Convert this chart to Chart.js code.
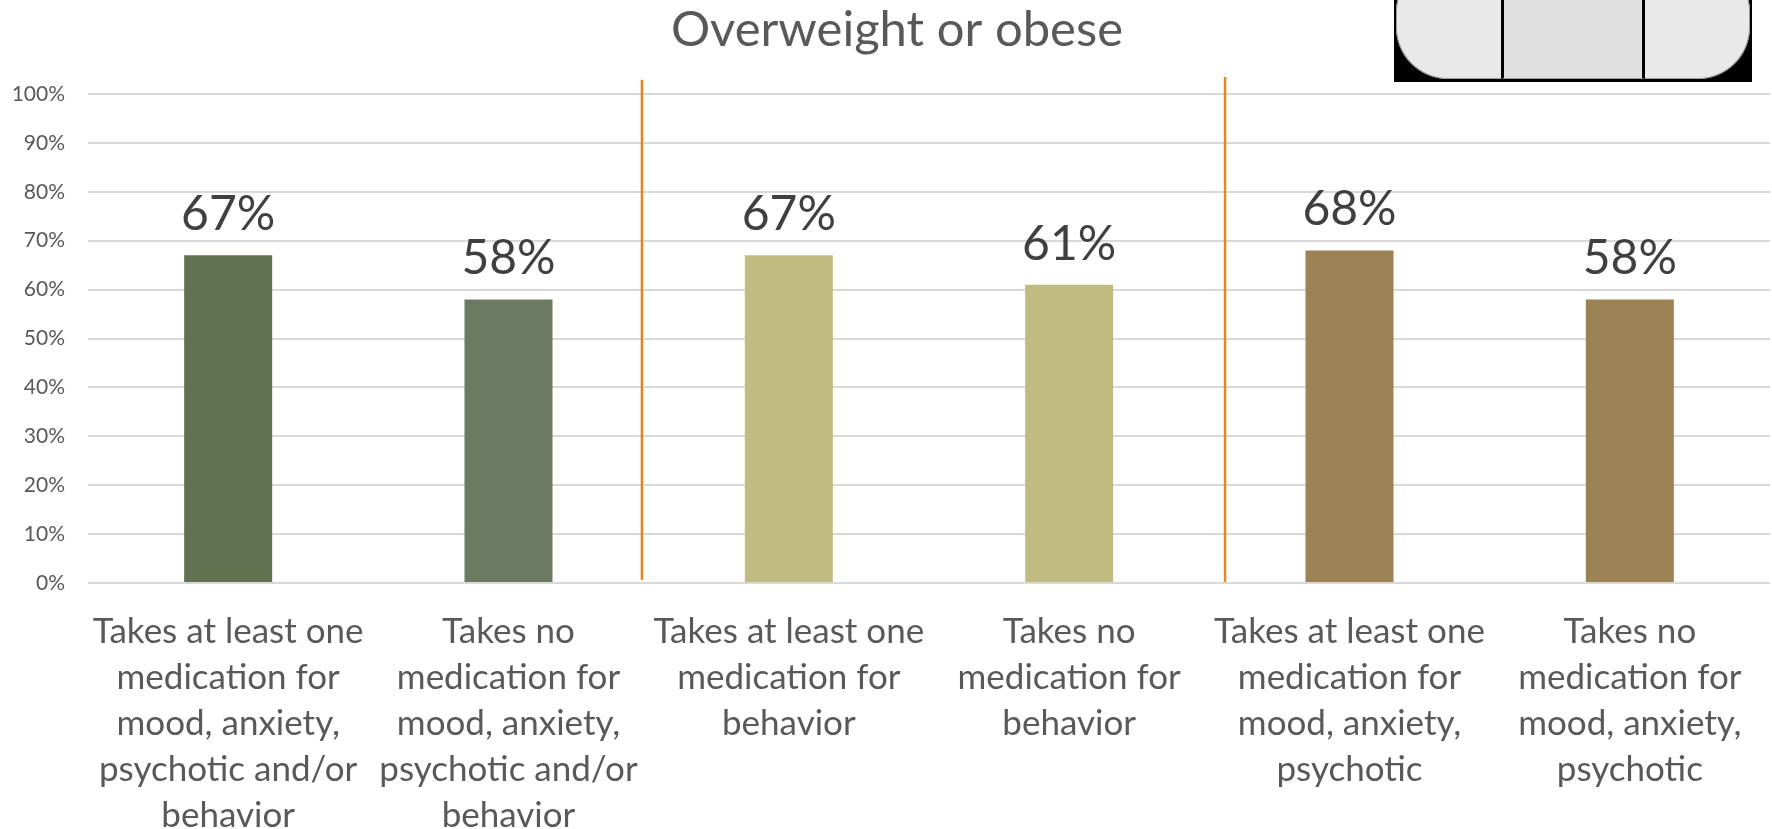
<!DOCTYPE html>
<html>
<head>
<meta charset="utf-8">
<title>Overweight or obese</title>
<script src="https://cdn.jsdelivr.net/npm/chart.js@4"></script>
<style>
    html, body { margin: 0; padding: 0; background: #ffffff; overflow: hidden; }
    #wrap { position: relative; width: 1772px; height: 829px; }
    /* tab strip stuck on the top right corner */
    #tabs { position: absolute; left: 1394px; top: 0; width: 358px; height: 82px; background: #000; }
    #tabs .strip { position: absolute; left: 2px; top: -40px; width: 354px; height: 119px; border-radius: 52px; overflow: hidden; background: #e9e9e9; box-shadow: inset 0 0 0 1px #999; }
    #tabs .mid { position: absolute; left: 105px; top: 0; width: 144px; height: 119px; box-sizing: border-box; background: #e0e0e0; border-left: 3px solid #000; border-right: 3px solid #000; border-bottom: 1px solid #999; }
</style>
</head>
<body>
<div id="wrap">
    <canvas id="obeseChart" width="1772" height="829"></canvas>
    <div id="tabs"><div class="strip"><div class="mid"></div></div></div>
</div>
<script>
const chartTitle = "Overweight or obese";
const categories = [
    ["Takes at least one", "medication for", "mood, anxiety,", "psychotic and/or", "behavior"],
    ["Takes no", "medication for", "mood, anxiety,", "psychotic and/or", "behavior"],
    ["Takes at least one", "medication for", "behavior"],
    ["Takes no", "medication for", "behavior"],
    ["Takes at least one", "medication for", "mood, anxiety,", "psychotic"],
    ["Takes no", "medication for", "mood, anxiety,", "psychotic"],
];
const percentages = [67, 58, 67, 61, 68, 58];
const barColors = ["#627150", "#6d7a62", "#c0bb80", "#c0bb80", "#9c8356", "#9c8356"];

// orange separators between the three groups: category position, then y range in %
const dividerAt = [1.476, 3.556];
const dividerFrom = [0.6, 0.2];
const dividerTo = [102.9, 103.5];

const FONT = "Lato, 'Open Sans', sans-serif";

// separators, title and the value labels above the bars
const chartExtras = {
    id: "chartExtras",
    afterDatasetsDraw(chart) {
        const ctx = chart.ctx;
        const { x, y } = chart.scales;
        ctx.save();

        ctx.strokeStyle = "#e5871b";
        ctx.lineWidth = 2.5;
        dividerAt.forEach((pos, i) => {
            const px = x.getPixelForValue(pos);
            ctx.beginPath();
            ctx.moveTo(px, y.getPixelForValue(dividerFrom[i]));
            ctx.lineTo(px, y.getPixelForValue(dividerTo[i]));
            ctx.stroke();
        });

        ctx.textAlign = "center";
        ctx.font = "49px " + FONT;
        ctx.fillStyle = "#595959";
        ctx.textBaseline = "middle";
        ctx.fillText(chartTitle, chart.width / 2 + 11, 30);

        ctx.font = "48px " + FONT;
        ctx.fillStyle = "#404040";
        ctx.textBaseline = "alphabetic";
        chart.getDatasetMeta(0).data.forEach((bar, i) => {
            ctx.fillText(percentages[i] + "%", bar.x, bar.y - 25);
        });
        ctx.restore();
    },
};

new Chart(document.getElementById("obeseChart"), {
    type: "bar",
    data: {
        labels: categories,
        datasets: [
            {
                data: percentages,
                backgroundColor: barColors,
                barPercentage: 0.314,
                categoryPercentage: 1,
            },
        ],
    },
    options: {
        responsive: false,
        animation: false,
        layout: { padding: { top: 94, right: 2 } },
        plugins: {
            legend: { display: false },
            tooltip: { enabled: false },
        },
        scales: {
            x: {
                grid: { display: false, drawTicks: false },
                border: { display: false },
                ticks: {
                    color: "#595959",
                    font: { family: FONT, size: 35, lineHeight: 1.31 },
                    padding: 26,
                    maxRotation: 0,
                    autoSkip: false,
                },
                afterFit(scale) { scale.height = 246; },
            },
            y: {
                min: 0,
                max: 100,
                grid: { color: "#d9d9d9", lineWidth: 2, drawTicks: false },
                border: { display: false },
                ticks: {
                    stepSize: 10,
                    color: "#595959",
                    font: { family: FONT, size: 21 },
                    padding: 23,
                    callback: (v) => v + "%",
                },
                afterFit(scale) { scale.width = 88; },
            },
        },
    },
    plugins: [chartExtras],
});
</script>
</body>
</html>
